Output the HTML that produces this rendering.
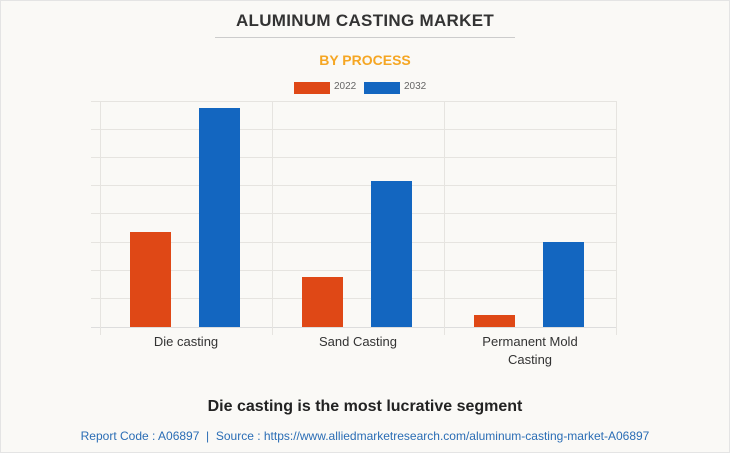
<!DOCTYPE html>
<html><head><style>
body{margin:0;background:#fff}
.c{position:relative;width:728px;height:451px;background:#faf9f6;border:1px solid #e4e4e4;font-family:"Liberation Sans",sans-serif;overflow:hidden}
.t{position:absolute;left:0;width:728px;text-align:center}
.g{position:absolute;background:#e6e4e0}
.b{position:absolute;width:41px}
.o{background:#df4816}.u{background:#1366c0}
.l{position:absolute;font-size:13px;color:#333;text-align:center;width:172px;line-height:18px}
</style></head><body><div class="c">
<div class="t" style="top:10px;font-size:17px;font-weight:bold;color:#333;letter-spacing:0.3px">ALUMINUM CASTING MARKET</div>
<div style="position:absolute;left:214px;top:36px;width:300px;height:1px;background:#ccc"></div>
<div class="t" style="top:51px;font-size:14px;font-weight:bold;color:#f5a623">BY PROCESS</div>
<div style="position:absolute;left:293px;top:81px;width:36px;height:12px" class="o"></div>
<div style="position:absolute;left:333px;top:80px;font-size:10px;color:#666">2022</div>
<div style="position:absolute;left:363px;top:81px;width:36px;height:12px" class="u"></div>
<div style="position:absolute;left:403px;top:80px;font-size:10px;color:#666">2032</div>
<div class="g" style="left:90px;top:100px;width:526px;height:1px"></div>
<div class="g" style="left:90px;top:128px;width:526px;height:1px"></div>
<div class="g" style="left:90px;top:156px;width:526px;height:1px"></div>
<div class="g" style="left:90px;top:184px;width:526px;height:1px"></div>
<div class="g" style="left:90px;top:212px;width:526px;height:1px"></div>
<div class="g" style="left:90px;top:241px;width:526px;height:1px"></div>
<div class="g" style="left:90px;top:269px;width:526px;height:1px"></div>
<div class="g" style="left:90px;top:297px;width:526px;height:1px"></div>
<div class="g" style="left:90px;top:326px;width:526px;height:1px;background:#ddd"></div>
<div class="g" style="left:99px;top:100px;width:1px;height:234px"></div>
<div class="g" style="left:271px;top:100px;width:1px;height:234px"></div>
<div class="g" style="left:443px;top:100px;width:1px;height:234px"></div>
<div class="g" style="left:615px;top:100px;width:1px;height:234px"></div>
<div class="b o" style="left:129px;top:231px;height:95px"></div>
<div class="b u" style="left:198px;top:107px;height:219px"></div>
<div class="b o" style="left:301px;top:276px;height:50px"></div>
<div class="b u" style="left:370px;top:180px;height:146px"></div>
<div class="b o" style="left:473px;top:314px;height:12px"></div>
<div class="b u" style="left:542px;top:241px;height:85px"></div>
<div class="l" style="left:99px;top:332px">Die casting</div>
<div class="l" style="left:271px;top:332px">Sand Casting</div>
<div class="l" style="left:443px;top:332px">Permanent Mold<br>Casting</div>
<div class="t" style="top:397px;font-size:16px;font-weight:bold;color:#222">Die casting is the most lucrative segment</div>
<div class="t" style="top:428px;font-size:12px;color:#2a6db5">Report Code : A06897 &nbsp;| &nbsp;Source : https://www.alliedmarketresearch.com/aluminum-casting-market-A06897</div>
</div></body></html>
